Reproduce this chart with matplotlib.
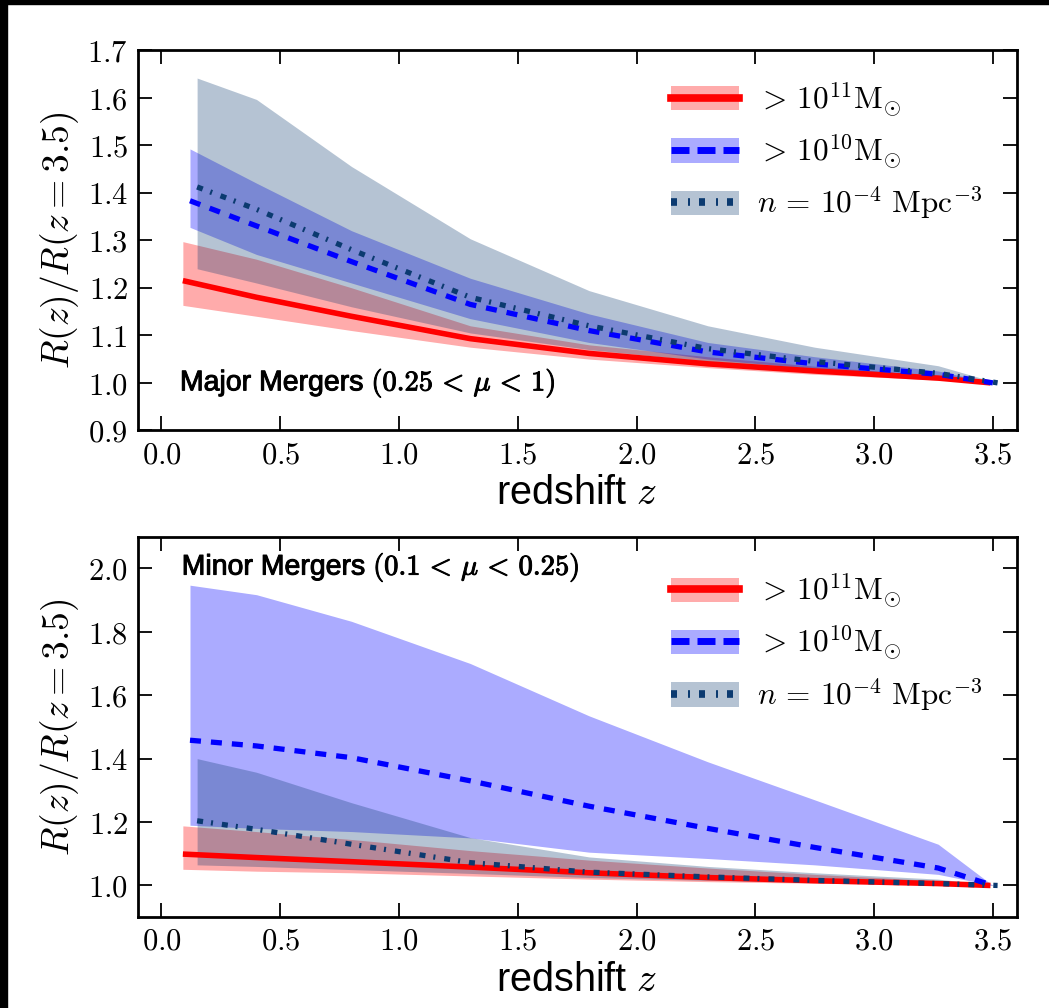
import matplotlib
matplotlib.use("Agg")
import matplotlib.pyplot as plt
import matplotlib.patheffects as pe
from matplotlib.lines import Line2D
from matplotlib.patches import Patch, Rectangle
from matplotlib.legend_handler import HandlerTuple
from matplotlib.ticker import FuncFormatter, MultipleLocator

plt.rcParams["mathtext.fontset"] = "cm"
plt.rcParams["font.family"] = ["Liberation Sans", "DejaVu Sans"]
plt.rcParams["lines.scale_dashes"] = False

# ---- data: ratio R(z)/R(z=3.5) with 1-sigma envelopes ----
z_red = [0.09, 0.4, 0.8, 1.3, 1.8, 2.3, 2.75, 3.27, 3.49]
z_blue = [0.12, 0.4, 0.8, 1.3, 1.8, 2.3, 2.75, 3.27, 3.50]
z_navy = [0.15, 0.4, 0.8, 1.3, 1.8, 2.3, 2.75, 3.27, 3.52]

# major mergers (0.25 < mu < 1)
major_red = [1.215, 1.18, 1.14, 1.093, 1.062, 1.04, 1.025, 1.01, 1.0]
major_red_lo = [1.163, 1.14, 1.11, 1.075, 1.05, 1.032, 1.018, 1.006, 1.0]
major_red_hi = [1.297, 1.26, 1.20, 1.12, 1.08, 1.055, 1.035, 1.015, 1.0]
major_blue = [1.383, 1.33, 1.255, 1.165, 1.11, 1.065, 1.04, 1.018, 1.0]
major_blue_lo = [1.327, 1.27, 1.21, 1.135, 1.085, 1.05, 1.03, 1.012, 1.0]
major_blue_hi = [1.492, 1.42, 1.32, 1.22, 1.145, 1.085, 1.055, 1.025, 1.0]
major_navy = [1.412, 1.365, 1.28, 1.18, 1.12, 1.072, 1.045, 1.02, 1.0]
major_navy_lo = [1.24, 1.21, 1.16, 1.105, 1.07, 1.045, 1.028, 1.012, 1.0]
major_navy_hi = [1.641, 1.596, 1.455, 1.303, 1.194, 1.12, 1.075, 1.036, 1.0]

# minor mergers (0.1 < mu < 0.25)
minor_red = [1.099, 1.088, 1.075, 1.058, 1.04, 1.025, 1.015, 1.006, 1.0]
minor_red_lo = [1.051, 1.045, 1.04, 1.03, 1.02, 1.012, 1.007, 1.003, 1.0]
minor_red_hi = [1.188, 1.17, 1.145, 1.11, 1.08, 1.055, 1.035, 1.015, 1.0]
minor_blue = [1.458, 1.44, 1.403, 1.33, 1.25, 1.18, 1.12, 1.055, 1.0]
minor_blue_lo = [1.19, 1.18, 1.17, 1.15, 1.105, 1.085, 1.065, 1.035, 1.0]
minor_blue_hi = [1.947, 1.917, 1.833, 1.70, 1.535, 1.39, 1.27, 1.13, 1.0]
minor_navy = [1.204, 1.177, 1.13, 1.072, 1.042, 1.027, 1.016, 1.006, 1.0]
minor_navy_lo = [1.065, 1.06, 1.05, 1.038, 1.025, 1.016, 1.01, 1.004, 1.0]
minor_navy_hi = [1.40, 1.357, 1.261, 1.151, 1.09, 1.06, 1.04, 1.02, 1.0]

legend_labels = [r"$>\,10^{11}\mathrm{M}_{\odot}$",
                 r"$>\,10^{10}\mathrm{M}_{\odot}$",
                 r"$n\,=\,10^{-4}\ \mathrm{Mpc}^{-3}$"]
panel_titles = [r"Major Mergers $(0.25\,<\,\mu\,<\,1)$",
                r"Minor Mergers $(0.1\,<\,\mu\,<\,0.25)$"]
xticks = [0.0, 0.5, 1.0, 1.5, 2.0, 2.5, 3.0, 3.5]

RED = "#ff0000"
BLUE = "#0000ff"
NAVY = "#0b3a70"
BAND_ALPHA = 0.33

px = 72.0 / 100.0  # points per pixel at 100 dpi
dash_blue = (0, (11 * px, 10 * px))
dash_navy = (0, (6 * px, 8 * px, 2 * px, 9 * px))
leg_dash_blue = (0, (18 * px, 8 * px))
leg_dash_navy = (0, (6 * px, 11 * px, 2 * px, 9 * px))

fig = plt.figure(figsize=(10.49, 10.08), dpi=100)
# dark frame strips along the left and top edges
fig.patches.append(Rectangle((0, 0), 7 / 1049, 1, transform=fig.transFigure,
                             color="black", zorder=-1))
fig.patches.append(Rectangle((0, 1 - 4 / 1008), 1, 4 / 1008,
                             transform=fig.transFigure, color="black", zorder=-1))

ax_top = fig.add_axes([0.1313, 0.5730, 0.8378, 0.3774])
ax_bot = fig.add_axes([0.1313, 0.0901, 0.8378, 0.3775])

panels = [
    (ax_top, (major_red, major_red_lo, major_red_hi),
     (major_blue, major_blue_lo, major_blue_hi),
     (major_navy, major_navy_lo, major_navy_hi), (0.9, 1.7), 0.1, 0.92),
    (ax_bot, (minor_red, minor_red_lo, minor_red_hi),
     (minor_blue, minor_blue_lo, minor_blue_hi),
     (minor_navy, minor_navy_lo, minor_navy_hi), (0.9, 2.1), 0.2, 0.907),
]

title_fx = [pe.withStroke(linewidth=0.7, foreground="black")]

for i, (ax, red, blue, navy, ylim, ystep, leg_top) in enumerate(panels):
    ax.fill_between(z_red, red[1], red[2], color=RED, alpha=BAND_ALPHA, lw=0)
    ax.fill_between(z_blue, blue[1], blue[2], color=BLUE, alpha=BAND_ALPHA, lw=0)
    ax.fill_between(z_navy, navy[1], navy[2], color=NAVY, alpha=0.3, lw=0)
    ax.plot(z_red, red[0], color=RED, lw=4.0, solid_capstyle="butt")
    ax.plot(z_blue, blue[0], color=BLUE, lw=3.8, linestyle=dash_blue,
            dash_capstyle="butt")
    ax.plot(z_navy, navy[0], color=NAVY, lw=3.8, linestyle=dash_navy,
            dash_capstyle="butt")

    ax.set_xlim(-0.1, 3.6)
    ax.set_ylim(*ylim)
    ax.set_xticks(xticks)
    ax.yaxis.set_major_locator(MultipleLocator(ystep))
    fmt = FuncFormatter(lambda v, p: r"$%.1f$" % v)
    ax.xaxis.set_major_formatter(fmt)
    ax.yaxis.set_major_formatter(fmt)
    ax.tick_params(direction="in", length=10, width=1.3, labelsize=22,
                   pad=7, top=True, right=True)
    for s in ax.spines.values():
        s.set_linewidth(2.0)
    ax.set_xlabel(r"redshift $z$", fontsize=28.5, labelpad=3)
    ax.set_ylabel(r"$R(z)/R(z=3.5)$", fontsize=27, labelpad=5)

    handles = [
        (Patch(facecolor=RED, alpha=BAND_ALPHA, lw=0),
         Line2D([], [], color=RED, lw=5.5)),
        (Patch(facecolor=BLUE, alpha=BAND_ALPHA, lw=0),
         Line2D([], [], color=BLUE, lw=5.0, linestyle=leg_dash_blue)),
        (Patch(facecolor=NAVY, alpha=0.3, lw=0),
         Line2D([], [], color=NAVY, lw=5.5, linestyle=leg_dash_navy)),
    ]
    ax.legend(handles, legend_labels, loc="upper left",
              bbox_to_anchor=(0.607, leg_top), frameon=False,
              fontsize=22.5, handlelength=2.18, handleheight=0.82,
              handletextpad=0.58, labelspacing=0.45, borderaxespad=0,
              borderpad=0,
              handler_map={tuple: HandlerTuple(ndivide=1, pad=0)})

    if i == 0:
        ax.text(0.048, 0.125, panel_titles[0], transform=ax.transAxes,
                fontsize=20.5, va="center", ha="left", path_effects=title_fx)
    else:
        ax.text(0.05, 0.92, panel_titles[1], transform=ax.transAxes,
                fontsize=20.5, va="center", ha="left", path_effects=title_fx)

fig.savefig("out.png", dpi=100, facecolor="white")
